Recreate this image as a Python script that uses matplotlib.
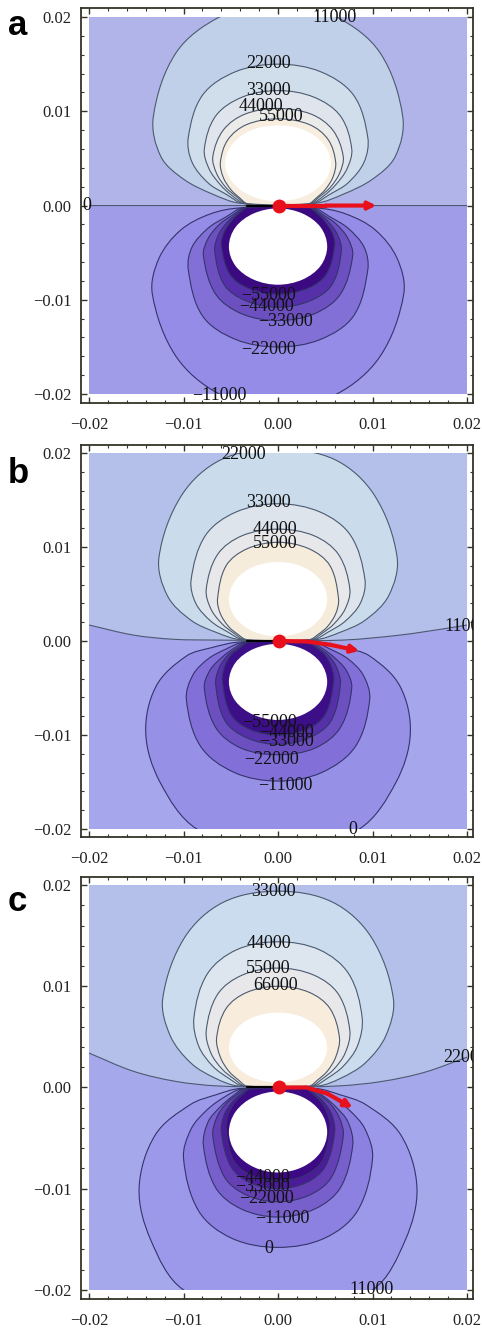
# Three stacked contour panels (a, b, c) with red field arrow
import numpy as np
import matplotlib
matplotlib.use('Agg')
import matplotlib.pyplot as plt
from matplotlib.path import Path
from matplotlib.patches import PathPatch, Rectangle

plt.rcParams['font.family'] = ['Liberation Serif', 'DejaVu Serif']

# Each one is its right half, top to pinch; the left half is the mirror image.
a_upper_x = [[0, 6.2, 10.8, 13.2, 12.4, 10, 6.9, 4.0],
             [0, 4.5, 8.0, 9.5, 9.1, 7.4, 5.5, 3.6],
             [0, 3.8, 6.6, 7.8, 7.3, 6.1, 4.8, 3.4],
             [0, 3.5, 5.8, 6.9, 6.5, 5.5, 4.4, 3.3],
             [0, 3.3, 5.3, 6.1, 5.8, 5.0, 4.1, 3.2]]
a_upper_y = [[21.8, 20.0, 16.2, 9.4, 5.2, 2.8, 1.2, 0.25],
             [15.0, 14.2, 11.7, 7.2, 4.6, 2.4, 1.2, 0.2],
             [12.2, 11.5, 9.5, 6.0, 3.9, 2.2, 1.0, 0.2],
             [10.3, 9.7, 8.0, 5.2, 3.4, 1.9, 0.95, 0.2],
             [9.2, 8.6, 7.0, 4.6, 3.0, 1.7, 0.85, 0.2]]
a_upper_white_x = [0, 2.8, 4.85, 5.6, 4.85, 2.8, 0]
a_upper_white_y = [8.5, 8.0, 6.5, 4.5, 2.5, 1.0, 0.45]
a_lower_x = [[0, 6.2, 10.8, 13.3, 12.6, 10.3, 7.2, 4.0],
             [0, 4.5, 8.0, 9.5, 9.1, 7.4, 5.5, 3.6],
             [0, 3.8, 6.6, 7.9, 7.4, 6.2, 4.8, 3.4],
             [0, 3.4, 5.7, 6.7, 6.3, 5.4, 4.4, 3.3],
             [0, 3.1, 5.1, 6.0, 5.7, 4.9, 4.1, 3.2]]
a_lower_y = [[-21.6, -20.0, -16.0, -9.4, -5.6, -2.6, -0.9, -0.25],
             [-15.0, -14.2, -11.7, -6.8, -4.4, -2.4, -1.2, -0.2],
             [-12.2, -11.5, -9.4, -5.3, -3.5, -2.0, -1.0, -0.2],
             [-10.8, -10.1, -8.4, -4.8, -3.1, -1.8, -0.9, -0.2],
             [-9.4, -8.8, -7.3, -4.2, -2.8, -1.6, -0.8, -0.2]]
a_lower_white_x = [0, 2.6, 4.5, 5.2, 4.5, 2.6, 0]
a_lower_white_y = [-8.4, -7.85, -6.4, -4.35, -2.3, -0.85, -0.3]
a_line_x = [-20, 20]
a_line_y = [0, 0]

b_upper_x = [[0, 6.0, 10.2, 12.6, 11.7, 9.2, 6.5, 4.0],
             [0, 4.5, 7.7, 9.2, 8.7, 7.1, 5.3, 3.7],
             [0, 3.8, 6.4, 7.6, 7.1, 5.9, 4.7, 3.5],
             [0, 3.3, 5.5, 6.4, 6.1, 5.2, 4.3, 3.3]]
b_upper_y = [[20.4, 19.3, 15.5, 8.9, 4.8, 2.2, 0.9, 0.15],
             [14.6, 13.7, 11.2, 6.5, 4.0, 2.1, 0.95, 0.15],
             [11.9, 11.2, 9.2, 5.5, 3.4, 1.8, 0.85, 0.15],
             [10.5, 9.8, 8.0, 4.5, 2.9, 1.5, 0.75, 0.15]]
b_upper_white_x = [0, 2.6, 4.5, 5.2, 4.5, 2.6, 0]
b_upper_white_y = [8.4, 7.9, 6.45, 4.45, 2.45, 1.0, 0.5]
b_lower_x = [[0, 8.6, 12.5, 14.0, 12.9, 9.7, 7.0, 4.0],
             [0, 4.6, 8.2, 9.7, 9.0, 7.4, 5.5, 3.7],
             [0, 3.9, 6.6, 7.8, 7.2, 5.9, 4.7, 3.5],
             [0, 3.3, 5.6, 6.6, 6.2, 5.3, 4.3, 3.3],
             [0, 3.0, 5.0, 5.9, 5.6, 4.9, 4.0, 3.2]]
b_lower_y = [[-23.0, -20.0, -15.0, -9.8, -4.8, -1.6, -0.7, -0.1],
             [-14.9, -14.0, -11.2, -6.2, -3.6, -1.9, -0.85, -0.15],
             [-12.1, -11.4, -9.2, -5.0, -3.1, -1.7, -0.8, -0.15],
             [-11.0, -10.3, -8.5, -4.6, -2.8, -1.5, -0.75, -0.15],
             [-10.0, -9.4, -7.8, -4.2, -2.6, -1.4, -0.7, -0.15]]
b_lower_white_x = [0, 2.6, 4.5, 5.2, 4.5, 2.6, 0]
b_lower_white_y = [-8.4, -7.85, -6.4, -4.35, -2.3, -0.85, -0.3]
b_line_x = [-20, -15.3, -11, -6.5, 0, 6.9, 12.9, 17.8, 20]
b_line_y = [1.7, 0.63, 0.18, 0.1, 0.05, 0.1, 0.63, 1.34, 1.7]

c_upper_x = [[0, 5.8, 9.9, 12.2, 11.4, 9.2, 6.6, 4.2],
             [0, 4.4, 7.5, 8.9, 8.4, 6.9, 5.2, 3.7],
             [0, 3.8, 6.4, 7.6, 7.1, 5.9, 4.6, 3.5],
             [0, 3.3, 5.5, 6.5, 6.1, 5.2, 4.2, 3.3]]
c_upper_y = [[19.4, 18.3, 14.8, 8.8, 5.1, 2.4, 0.9, 0.15],
             [14.4, 13.6, 11.2, 6.9, 4.1, 2.1, 0.9, 0.15],
             [11.8, 11.1, 9.2, 5.6, 3.4, 1.8, 0.8, 0.15],
             [10.0, 9.4, 7.8, 4.9, 3.0, 1.6, 0.75, 0.15]]
c_upper_white_x = [0, 2.6, 4.5, 5.2, 4.5, 2.6, 0]
c_upper_white_y = [7.4, 6.95, 5.7, 3.95, 2.2, 0.95, 0.5]
c_lower_x = [[0, 10.0, 13.5, 14.7, 13.0, 9.3, 6.5, 4.0],
             [0, 4.9, 8.4, 10.0, 9.2, 7.5, 5.6, 3.8],
             [0, 3.9, 6.6, 7.9, 7.4, 6.1, 4.8, 3.6],
             [0, 3.4, 5.7, 6.9, 6.5, 5.5, 4.4, 3.4],
             [0, 3.0, 5.0, 6.0, 5.7, 4.9, 4.0, 3.2],
             [0, 2.8, 4.7, 5.5, 5.2, 4.5, 3.7, 3.0]]
c_lower_y = [[-23.5, -20.0, -15.0, -9.9, -4.7, -1.7, -0.7, -0.1],
             [-15.8, -14.9, -12.2, -7.0, -4.1, -2.2, -0.9, -0.15],
             [-12.8, -12.0, -9.9, -5.7, -3.4, -1.9, -0.85, -0.15],
             [-11.3, -10.6, -8.8, -4.8, -3.0, -1.6, -0.75, -0.15],
             [-10.0, -9.4, -7.8, -4.4, -2.7, -1.5, -0.7, -0.15],
             [-9.2, -8.7, -7.2, -4.0, -2.5, -1.4, -0.65, -0.15]]
c_lower_white_x = [0, 2.6, 4.5, 5.2, 4.5, 2.6, 0]
c_lower_white_y = [-8.4, -7.85, -6.4, -4.4, -2.4, -0.95, -0.4]
c_line_x = [-20, -15.3, -10.8, -6.5, 0, 6.5, 11, 15.5, 20]
c_line_y = [3.4, 1.6, 0.6, 0.16, 0.05, 0.16, 0.6, 1.5, 3.0]

# Contour labels
a_labels = ['11000', '22000', '33000', '44000', '55000', '0',
            '\u221255000', '\u221244000', '\u221233000', '\u221222000', '\u221211000']
a_label_x = [6.0, -1.05, -1.0, -1.8, 0.35, -20.2, -1.0, -1.2, 0.8, -1.0, -6.2]
a_label_y = [20.0, 15.1, 12.2, 10.5, 9.5, 0.0, -9.5, -10.7, -12.3, -15.3, -20.2]
b_labels = ['22000', '33000', '44000', '55000', '11000',
            '\u221255000', '\u221244000', '\u221233000', '\u221222000', '\u221211000', '0']
b_label_x = [-3.6, -1.0, -0.35, -0.35, 20.1, -0.9, 0.9, 0.9, -0.7, 0.8, 7.9]
b_label_y = [19.8, 14.7, 11.9, 10.4, 1.5, -8.7, -9.7, -10.65, -12.6, -15.4, -20.0]
c_labels = ['33000', '44000', '55000', '66000', '22000',
            '\u221244000', '\u221233000', '\u221222000', '\u221211000', '0', '11000']
c_label_x = [-0.5, -1.0, -1.0, -0.3, 20.0, -1.6, -1.6, -1.2, 0.4, -1.0, 9.9]
c_label_y = [19.4, 14.2, 11.8, 10.1, 3.0, -8.9, -9.8, -11.0, -12.9, -15.9, -20.0]

# Red arrow in each panel
a_arrow_x = [0.1, 5.0, 10.4]
a_arrow_y = [0.0, 0.0, 0.0]
b_arrow_x = [0.1, 3.0, 5.5, 8.6]
b_arrow_y = [0.0, -0.05, -0.4, -1.05]
c_arrow_x = [0.1, 3.0, 5.2, 7.9]
c_arrow_y = [0.0, 0.0, -0.6, -2.0]

# Fill colours, outermost band first
a_upper_colors = ['#b0b4e8', '#c0d0e8', '#d0deec', '#e0e4ec', '#ebebe9', '#f8eee0']
a_lower_colors = ['#a09ce8', '#948ce6', '#8270d6', '#6c50c0', '#5530a8', '#3c0a80']
b_upper_colors = ['#b4c0ea', '#cadcec', '#dde4ec', '#e8e8ea', '#f6ecdc']
b_lower_colors = ['#a6a6ec', '#9690e6', '#8270d8', '#6c50c0', '#5530a8', '#3c0f88']
c_upper_colors = ['#b4c0ea', '#cadcee', '#dde6ee', '#e8e8ea', '#f8ecdc']
c_lower_colors = ['#a6a8ec', '#9c98ea', '#8c80e0', '#7860cc', '#6440b4', '#4c1c98', '#3c0a84']

major_ticks = [-0.02, -0.01, 0.0, 0.01, 0.02]
major_labels = ['\u22120.02', '\u22120.01', '0.00', '0.01', '0.02']
minor_ticks = [-0.018, -0.016, -0.014, -0.012, -0.008, -0.006, -0.004, -0.002,
               0.002, 0.004, 0.006, 0.008, 0.012, 0.014, 0.016, 0.018]

FIG_W, FIG_H = 482, 1332
UPPER_LINE = '#4c5a70'
LOWER_LINE = '#34346c'
RED = '#e8101c'


def smooth_path(xs, ys, closed=False):
    """Bezier curve through the read points, tangents scaled by chord length"""
    pts = np.column_stack([xs, ys]) * 0.001
    n = len(pts)
    verts = [pts[0]]
    codes = [Path.MOVETO]
    for i in range(n if closed else n - 1):
        if closed:
            p0, p1, p2, p3 = pts[(i - 1) % n], pts[i], pts[(i + 1) % n], pts[(i + 2) % n]
        else:
            p0, p1, p2, p3 = pts[max(i - 1, 0)], pts[i], pts[i + 1], pts[min(i + 2, n - 1)]
        chord = np.hypot(*(p2 - p1))
        t1 = (p2 - p0) / np.hypot(*(p2 - p0))
        t2 = (p3 - p1) / np.hypot(*(p3 - p1))
        verts += [p1 + t1 * chord / 3, p2 - t2 * chord / 3, p2]
        codes += [Path.CURVE4] * 3
    return Path(verts, codes)


def outline(xs, ys):
    # mirror the right half, dropping the points that sit on x = 0
    xs, ys = list(xs), list(ys)
    left_x = [-v for v in xs if v != 0][::-1]
    left_y = [w for v, w in zip(xs, ys) if v != 0][::-1]
    return smooth_path(xs + left_x, ys + left_y, closed=True)


def draw_panel(px_box, ylim, upper, lower, upper_white, lower_white, line,
               upper_colors, lower_colors, labels, arrow, letter, letter_pos):
    left, top, right, bottom = px_box
    ax = fig.add_axes([left / FIG_W, 1 - bottom / FIG_H,
                       (right - left) / FIG_W, (bottom - top) / FIG_H])
    ax.set_xlim(-0.02085, 0.02063)
    ax.set_ylim(ylim)

    field = Rectangle((-0.02, -0.02), 0.04, 0.04, transform=ax.transData)

    # Background either side of the dividing contour
    ax.add_patch(Rectangle((-0.02, -0.02), 0.04, 0.04, fc=lower_colors[0], ec='none'))
    base = smooth_path(line[0], line[1])
    upper_verts = list(base.vertices) + [(0.02, 0.02), (-0.02, 0.02), base.vertices[0]]
    upper_codes = list(base.codes) + [Path.LINETO, Path.LINETO, Path.CLOSEPOLY]
    ax.add_patch(PathPatch(Path(upper_verts, upper_codes), fc=upper_colors[0], ec='none'))
    ax.add_patch(PathPatch(base, fc='none', ec=UPPER_LINE, lw=0.8))

    # Bands, outermost first so the inner ones lie on top
    for xs, ys, col in zip(upper[0], upper[1], upper_colors[1:]):
        p = PathPatch(outline(xs, ys), fc=col, ec=UPPER_LINE, lw=0.8)
        ax.add_patch(p)
        p.set_clip_path(field)
    for xs, ys, col in zip(lower[0], lower[1], lower_colors[1:]):
        p = PathPatch(outline(xs, ys), fc=col, ec=LOWER_LINE, lw=0.8)
        ax.add_patch(p)
        p.set_clip_path(field)

    # Empty centres
    ax.add_patch(PathPatch(outline(*upper_white), fc='white', ec='none'))
    ax.add_patch(PathPatch(outline(*lower_white), fc='white', ec='none'))
    ax.plot([-0.0033, 0.003], [0, 0], color='black', lw=1.6, solid_capstyle='round')

    # Contour labels, the ones at the right edge are cut off by the frame
    for txt, x, y in zip(*labels):
        if x >= 19.5:
            ax.text((x - 2.5) * 0.001, y * 0.001, txt, fontsize=13, color='#111111',
                    ha='left', va='center', clip_on=True)
        else:
            ax.text(x * 0.001, y * 0.001, txt, fontsize=13, color='#111111',
                    ha='center', va='center', clip_on=False)

    # Red dot and arrow
    ar_x = np.array(arrow[0]) * 0.001
    ar_y = np.array(arrow[1]) * 0.001
    ax.plot(ar_x[:-1], ar_y[:-1], color=RED, lw=3)
    ax.annotate('', xy=(ar_x[-1], ar_y[-1]), xytext=(ar_x[-2], ar_y[-2]),
                arrowprops=dict(arrowstyle='-|>', color=RED, lw=3,
                                mutation_scale=11, shrinkA=0, shrinkB=0))
    ax.plot([ar_x[0]], [ar_y[0]], 'o', color=RED, ms=10, mec='none')

    # Frame and ticks
    ax.set_xticks(major_ticks)
    ax.set_xticklabels(major_labels, fontsize=12)
    ax.set_yticks(major_ticks)
    ax.set_yticklabels(major_labels, fontsize=12)
    ax.set_xticks(minor_ticks, minor=True)
    ax.set_yticks(minor_ticks, minor=True)
    ax.tick_params(which='major', direction='in', top=True, right=True, length=4,
                   width=1.0, color='#333328', labelcolor='#222222')
    ax.tick_params(which='minor', direction='in', top=True, right=True, length=2,
                   width=0.8, color='#333328')
    ax.tick_params(axis='x', which='major', pad=10)
    ax.tick_params(axis='y', which='major', pad=7)
    for s in ax.spines.values():
        s.set_linewidth(1.3)
        s.set_color('#333328')

    fig.text(letter_pos[0] / FIG_W, 1 - letter_pos[1] / FIG_H, letter, fontsize=25,
             fontweight='bold', family='Liberation Sans', ha='left', va='baseline')


fig = plt.figure(figsize=(FIG_W / 100, FIG_H / 100), dpi=100)

draw_panel((81, 8, 473, 403), (-0.02095, 0.02096),
           (a_upper_x, a_upper_y), (a_lower_x, a_lower_y),
           (a_upper_white_x, a_upper_white_y), (a_lower_white_x, a_lower_white_y),
           (a_line_x, a_line_y), a_upper_colors, a_lower_colors,
           (a_labels, a_label_x, a_label_y), (a_arrow_x, a_arrow_y), 'a', (8, 35))
draw_panel((81, 445, 473, 837), (-0.02085, 0.02085),
           (b_upper_x, b_upper_y), (b_lower_x, b_lower_y),
           (b_upper_white_x, b_upper_white_y), (b_lower_white_x, b_lower_white_y),
           (b_line_x, b_line_y), b_upper_colors, b_lower_colors,
           (b_labels, b_label_x, b_label_y), (b_arrow_x, b_arrow_y), 'b', (8, 483))
draw_panel((81, 877, 473, 1299), (-0.0209, 0.0208),
           (c_upper_x, c_upper_y), (c_lower_x, c_lower_y),
           (c_upper_white_x, c_upper_white_y), (c_lower_white_x, c_lower_white_y),
           (c_line_x, c_line_y), c_upper_colors, c_lower_colors,
           (c_labels, c_label_x, c_label_y), (c_arrow_x, c_arrow_y), 'c', (8, 911))

fig.savefig('out.png', dpi=100)
